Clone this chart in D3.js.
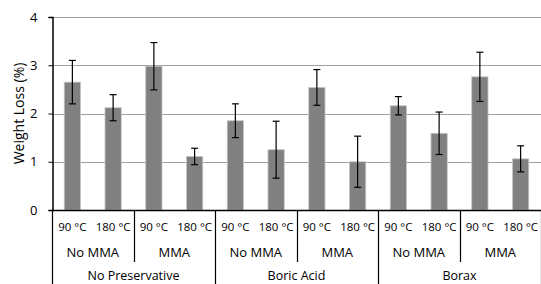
<!DOCTYPE html>
<html>
<head>
<meta charset="utf-8">
<script src="https://cdn.jsdelivr.net/npm/d3@7"></script>
<style>
  body { margin: 0; background: #fff; }
  svg text { font-family: "Open Sans", sans-serif; fill: #000; }
</style>
</head>
<body>
<svg id="chart" width="541" height="284"></svg>
<script>
// weight loss per treatment, 12 bars left to right
var temps = ['90 °C', '180 °C', '90 °C', '180 °C', '90 °C', '180 °C',
             '90 °C', '180 °C', '90 °C', '180 °C', '90 °C', '180 °C'];
var mmaGroups = ['No MMA', 'MMA', 'No MMA', 'MMA', 'No MMA', 'MMA'];
var preservatives = ['No Preservative', 'Boric Acid', 'Borax'];
var weightLoss = [2.65, 2.12, 2.98, 1.11, 1.85, 1.25, 2.54, 1.00, 2.16, 1.59, 2.76, 1.06];
var errors = [0.45, 0.27, 0.49, 0.17, 0.35, 0.59, 0.37, 0.53, 0.19, 0.44, 0.51, 0.27];
var yTicks = [0, 1, 2, 3, 4];

var svg = d3.select('#chart');
var plotLeft = 52, plotRight = 541, plotTop = 17, plotBottom = 210;

var x = d3.scaleBand()
    .domain(d3.range(weightLoss.length))
    .range([plotLeft, plotRight])
    .paddingInner(0.6)
    .paddingOuter(0.3);

var y = d3.scaleLinear().domain([0, 4]).range([plotBottom, plotTop]);

// gridlines
svg.append('g')
    .selectAll('line')
    .data(yTicks.slice(1))
    .enter().append('line')
    .attr('x1', plotLeft).attr('x2', plotRight)
    .attr('y1', d => Math.round(y(d)) + 0.5)
    .attr('y2', d => Math.round(y(d)) + 0.5)
    .attr('stroke', '#a0a0a0');

// bars
svg.append('g')
    .selectAll('rect')
    .data(weightLoss)
    .enter().append('rect')
    .attr('x', (d, i) => x(i))
    .attr('y', d => y(d))
    .attr('width', x.bandwidth())
    .attr('height', d => plotBottom - y(d))
    .attr('fill', '#808080')
    .attr('stroke', '#c8c8c8')
    .attr('stroke-width', 0.8);

// error bars
var eb = svg.append('g')
    .selectAll('g')
    .data(weightLoss)
    .enter().append('g')
    .attr('stroke', '#000')
    .attr('stroke-width', 1.2);

eb.append('line')
    .attr('x1', (d, i) => x(i) + x.bandwidth() / 2)
    .attr('x2', (d, i) => x(i) + x.bandwidth() / 2)
    .attr('y1', (d, i) => y(d + errors[i]))
    .attr('y2', (d, i) => y(d - errors[i]));

[1, -1].forEach(s => {
    eb.append('line')
        .attr('x1', (d, i) => x(i) + x.bandwidth() / 2 - 3.5)
        .attr('x2', (d, i) => x(i) + x.bandwidth() / 2 + 3.5)
        .attr('y1', (d, i) => y(d + s * errors[i]))
        .attr('y2', (d, i) => y(d + s * errors[i]));
});

// y axis
var yAxis = d3.axisLeft(y).tickValues(yTicks).tickFormat(d3.format('d'))
    .tickSize(4).tickPadding(11);
var gY = svg.append('g')
    .attr('transform', 'translate(' + (plotLeft + 0.5) + ',0)')
    .call(yAxis);
gY.select('.domain').attr('stroke', '#000').attr('stroke-width', 1.5);
gY.selectAll('.tick line').attr('stroke', '#000');
gY.selectAll('text').style('font-size', '13px').style('font-family', '"Open Sans", sans-serif');

svg.append('text')
    .attr('transform', 'translate(24,' + (plotTop + plotBottom) / 2 + ') rotate(-90)')
    .attr('text-anchor', 'middle')
    .style('font-size', '14px')
    .text('Weight Loss (%)');

// x axis line
svg.append('line')
    .attr('x1', plotLeft).attr('x2', plotRight)
    .attr('y1', plotBottom + 0.5).attr('y2', plotBottom + 0.5)
    .attr('stroke', '#000').attr('stroke-width', 1.5);

// hierarchical category labels
var step = x.step();
svg.append('g')
    .selectAll('text')
    .data(temps)
    .enter().append('text')
    .attr('x', (d, i) => x(i) + x.bandwidth() / 2)
    .attr('y', 231)
    .attr('text-anchor', 'middle')
    .style('font-size', '11.5px')
    .text(d => d);

svg.append('g')
    .selectAll('text')
    .data(mmaGroups)
    .enter().append('text')
    .attr('x', (d, i) => plotLeft + step * (2 * i + 1))
    .attr('y', 257)
    .attr('text-anchor', 'middle')
    .style('font-size', '13px')
    .text(d => d);

svg.append('g')
    .selectAll('text')
    .data(preservatives)
    .enter().append('text')
    .attr('x', (d, i) => plotLeft + step * (4 * i + 2))
    .attr('y', 280)
    .attr('text-anchor', 'middle')
    .style('font-size', '12.5px')
    .text(d => d);

// separator lines: between MMA groups (short), between preservatives (long)
svg.append('g')
    .selectAll('line')
    .data(d3.range(0, mmaGroups.length + 1))
    .enter().append('line')
    .attr('x1', i => Math.round(plotLeft + step * 2 * i) + 0.5)
    .attr('x2', i => Math.round(plotLeft + step * 2 * i) + 0.5)
    .attr('y1', plotBottom)
    .attr('y2', i => i % 2 === 0 ? 284 : 262)
    .attr('stroke', '#000')
    .attr('stroke-width', 1.2);
</script>
</body>
</html>
